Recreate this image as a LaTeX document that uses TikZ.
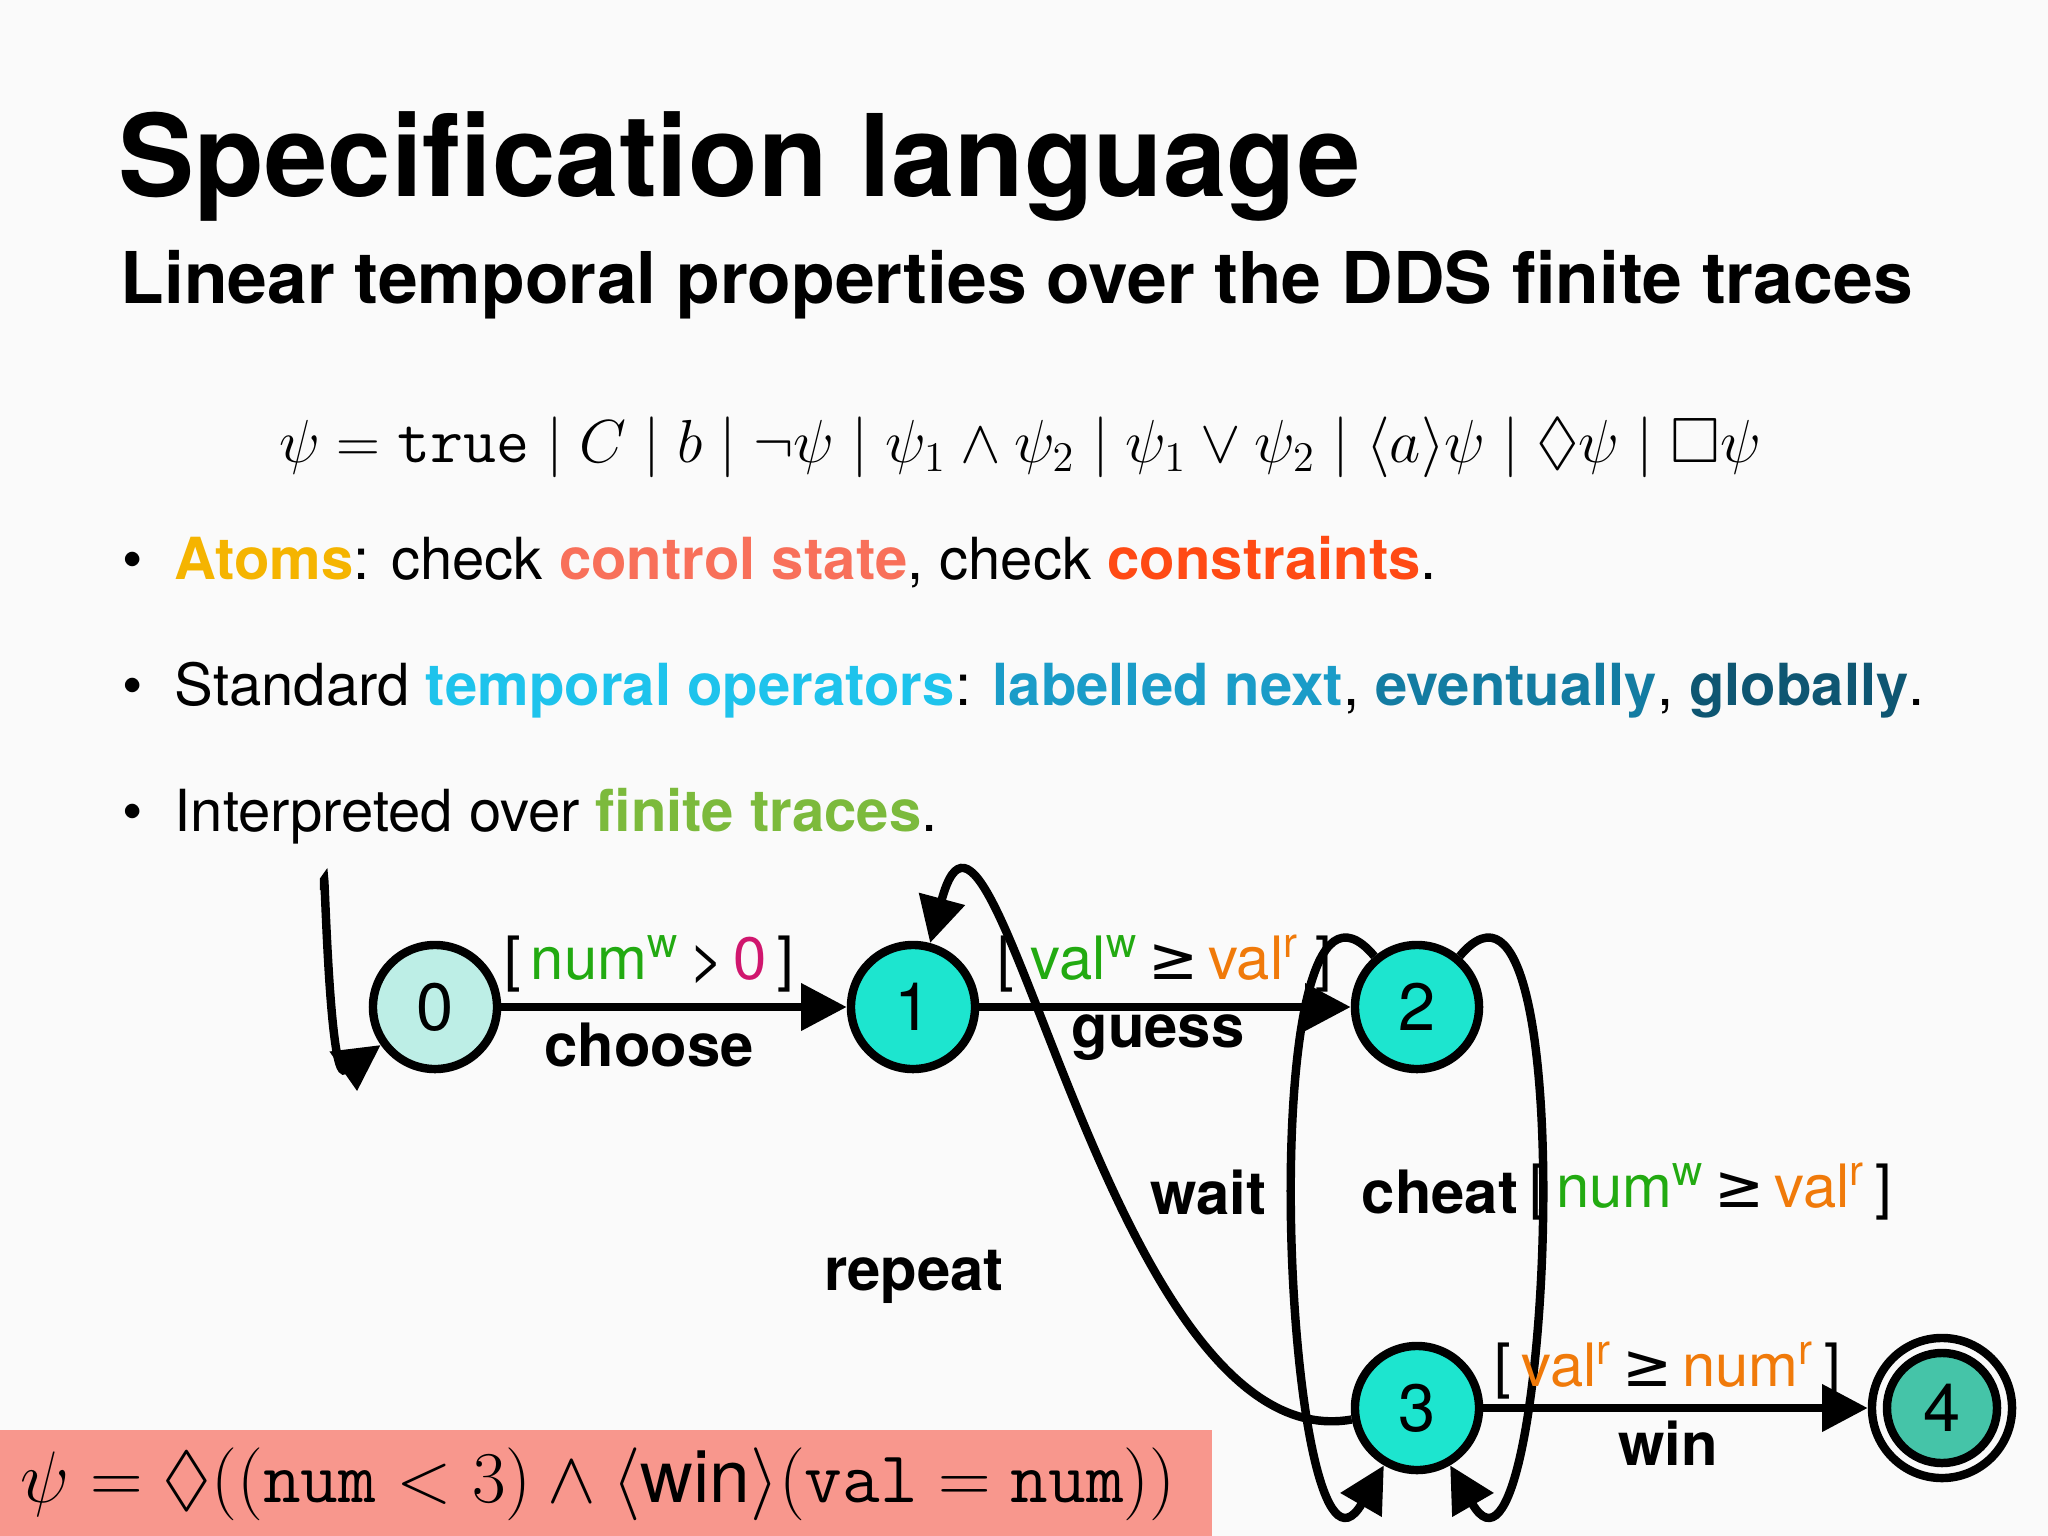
\documentclass[tikz,border=0pt]{standalone}
\usepackage{amssymb}
\usepackage{fontspec}
\setsansfont{TeX Gyre Heros}
\newfontfamily\djv{DejaVu Sans}
\usetikzlibrary{arrows.meta}
\definecolor{atomc}{HTML}{F5B400}
\definecolor{ctrlc}{HTML}{F8705A}
\definecolor{consc}{HTML}{FF4A14}
\definecolor{tempc}{HTML}{1EC3EC}
\definecolor{nextc}{HTML}{1A9CC8}
\definecolor{evc}{HTML}{137CA2}
\definecolor{globc}{HTML}{0E5672}
\definecolor{finc}{HTML}{7CBA3C}
\definecolor{grn}{HTML}{22AA11}
\definecolor{org}{HTML}{F07A0A}
\definecolor{mag}{HTML}{D0166E}
\definecolor{sA}{HTML}{BDEEE6}
\definecolor{sB}{HTML}{1DE5CF}
\definecolor{sC}{HTML}{45C4A8}
\definecolor{boxc}{HTML}{F8978D}
\newcommand\sw{\textsuperscript{w}}
\newcommand\sr{\textsuperscript{r}}
\newcommand\gq{{\djv ≥}}
\begin{document}
\begin{tikzpicture}[x=0.01cm,y=-0.01cm,
  every node/.style={font=\sffamily},
  stnode/.style={circle,draw,line width=2.4pt,minimum size=1.24cm,inner sep=0,font=\sffamily\fontsize{19}{19}\selectfont},
  edge/.style={line width=2.4pt,-{Triangle[length=13pt,width=13pt]}},
  lab/.style={font=\sffamily\bfseries\fontsize{17}{20}\selectfont},
  grd/.style={font=\sffamily\fontsize{17}{20}\selectfont},
  bul/.style={anchor=base west,inner sep=0,font=\sffamily\fontsize{16.5}{20}\selectfont}]
\fill[white!98!black] (0,0) rectangle (2048,1536);
\useasboundingbox (0,0) rectangle (2048,1536);
\node[anchor=base west,inner sep=0,font=\sffamily\bfseries\fontsize{32.4}{36}\selectfont] (title) at (118,196) {Specification language};
\node[anchor=base west,inner sep=0,font=\sffamily\bfseries\fontsize{20.3}{24}\selectfont] (sub) at (120,303) {Linear temporal properties over the DDS finite traces};
\node[inner sep=0,font=\fontsize{18.2}{22}\selectfont] (form) at (1020,447) {$\psi = \mathtt{true} \mid C \mid b \mid \neg\psi \mid \psi_1\wedge\psi_2 \mid \psi_1\vee\psi_2 \mid \langle a\rangle\psi \mid \Diamond\psi \mid \Box\psi$};
\node[bul] (b1) at (122,579) {•\hspace{9pt}\textbf{\color{atomc}Atoms}: check \textbf{\color{ctrlc}control state}, check \textbf{\color{consc}constraints}.};
\node[bul] (b2) at (122,705) {•\hspace{9pt}Standard \textbf{\color{tempc}temporal operators}: \textbf{\color{nextc}labelled next}, \textbf{\color{evc}eventually}, \textbf{\color{globc}globally}.};
\node[bul] (b3) at (122,831) {•\hspace{9pt}Interpreted over \textbf{\color{finc}finite traces}.};
\node[stnode,fill=sA] (s0) at (435,1007) {0};
\node[stnode,fill=sB] (s1) at (913,1007) {1};
\node[stnode,fill=sB] (s2) at (1417,1007) {2};
\node[stnode,fill=sB] (s3) at (1417,1408) {3};
\node[stnode,fill=sC,minimum size=1.1cm] (s4i) at (1942,1408) {4};
\node[stnode,minimum size=1.4cm] (s4) at (1942,1408) {};
\coordinate (init) at (324,890);
\draw[edge] (init) to[out=90,in=-145] (s0);
\draw[edge] (s0) -- (s1);
\draw[edge] (s1) -- (s2);
\draw[edge] (s2) to[out=130,in=-120] (s3);
\draw[edge] (s2) to[out=50,in=-60] (s3);
\draw[edge] (s3) to[out=-170,in=75] (s1);
\draw[edge] (s3) -- (s4);
\node[grd] (g1) at (649,964) {[\,{\color{grn}num\sw}\,>\,{\color{mag}0}\,]};
\node[lab] (l1) at (649,1045) {choose};
\node[grd] (g2) at (1165,964) {[ {\color{grn}val\sw}\,\gq\,{\color{org}val\sr} ]};
\node[lab] (l2) at (1158,1038) {guess};
\node[lab] (l3) at (1208,1192) {wait};
\node[lab] (l4) at (1440,1192) {cheat};
\node[grd] (g4) at (1711,1192) {[\,{\color{grn}num\sw}\,\gq\,{\color{org}val\sr}\,]};
\node[lab] (l5) at (914,1277) {repeat};
\node[grd] (g6) at (1668,1371) {[\,{\color{org}val\sr}\,\gq\,{\color{org}num\sr}\,]};
\node[lab] (l6) at (1668,1443) {win};
\fill[boxc] (0,1430) rectangle (1212,1536);
\node[anchor=west,inner sep=0,font=\fontsize{20.8}{24}\selectfont] (goal) at (20,1484) {$\psi = \Diamond((\mathtt{num} < 3)\wedge\langle\textsf{win}\rangle(\mathtt{val} = \mathtt{num}))$};
\end{tikzpicture}
\end{document}
